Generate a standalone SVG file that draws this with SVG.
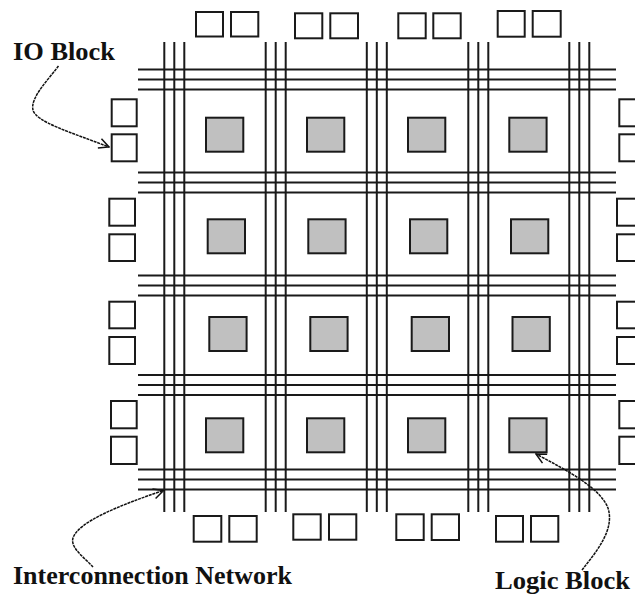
<svg xmlns="http://www.w3.org/2000/svg" width="635" height="595" viewBox="0 0 635 595">
<style>
.bg{fill:#fff}
.wire{stroke:#1a1a1a;stroke-width:2;fill:none}
.io{fill:#fff;stroke:#1a1a1a;stroke-width:2}
.lb{fill:#c0c0c0;stroke:#1a1a1a;stroke-width:2}
.lbl{font-family:"Liberation Serif","Times New Roman",serif;font-weight:bold;font-size:26px;fill:#111}
.arr{fill:none;stroke:#111;stroke-width:1.5;stroke-dasharray:3 0.8}
</style>
<defs>
<marker id="ah" viewBox="0 0 12 12" refX="11" refY="6" markerWidth="12" markerHeight="12" markerUnits="userSpaceOnUse" orient="auto">
<path d="M1,1 L11,6 L1,11" fill="none" stroke="#111" stroke-width="1.5"/>
</marker>
</defs>
<rect class="bg" x="0" y="0" width="635" height="595"/>
<g id="interconnect">
<g class="wire">
<path d="M138,69.5H616M138,79.5H616M138,89.5H616"/>
<path d="M138,172.5H616M138,182.5H616M138,192.5H616"/>
<path d="M138,275.5H616M138,285.5H616M138,295.5H616"/>
<path d="M138,375H616M138,385H616M138,395H616"/>
<path d="M138,469.5H616M138,479.5H616M138,489.5H616"/>
<path d="M164.3,42V512M174.3,42V512M184.3,42V512"/>
<path d="M265.7,42V512M275.7,42V512M285.7,42V512"/>
<path d="M366.8,42V512M376.8,42V512M386.8,42V512"/>
<path d="M468.3,42V512M478.3,42V512M488.3,42V512"/>
<path d="M569.3,42V512M579.3,42V512M589.3,42V512"/>
</g>
</g>
<g id="logic-blocks">
<g id="lb-1-1"><rect class="lb" x="206" y="117.7" width="37.3" height="34"/></g>
<g id="lb-1-2"><rect class="lb" x="307" y="117.7" width="37.3" height="34"/></g>
<g id="lb-1-3"><rect class="lb" x="408" y="117.7" width="37.3" height="34"/></g>
<g id="lb-1-4"><rect class="lb" x="509.3" y="117.7" width="37.3" height="34"/></g>
<g id="lb-2-1"><rect class="lb" x="207.7" y="219.3" width="37.3" height="34"/></g>
<g id="lb-2-2"><rect class="lb" x="308.3" y="219.3" width="37.3" height="34"/></g>
<g id="lb-2-3"><rect class="lb" x="410" y="219.3" width="37.3" height="34"/></g>
<g id="lb-2-4"><rect class="lb" x="511" y="219.3" width="37.3" height="34"/></g>
<g id="lb-3-1"><rect class="lb" x="209.3" y="317" width="37.3" height="34"/></g>
<g id="lb-3-2"><rect class="lb" x="310.3" y="317" width="37.3" height="34"/></g>
<g id="lb-3-3"><rect class="lb" x="411.7" y="317" width="37.3" height="34"/></g>
<g id="lb-3-4"><rect class="lb" x="512.5" y="317" width="37.3" height="34"/></g>
<g id="lb-4-1"><rect class="lb" x="206" y="418.3" width="37.3" height="34"/></g>
<g id="lb-4-2"><rect class="lb" x="307" y="418.3" width="37.3" height="34"/></g>
<g id="lb-4-3"><rect class="lb" x="408" y="418.3" width="37.3" height="34"/></g>
<g id="lb-4-4"><rect class="lb" x="509.3" y="418.3" width="37.3" height="34"/></g>
</g>
<g id="io-blocks">
<g id="io-top-1"><rect class="io" x="196" y="12" width="27" height="24.5"/><rect class="io" x="231" y="12" width="27.3" height="24.5"/></g>
<g id="io-top-2"><rect class="io" x="295" y="13.3" width="27.3" height="25"/><rect class="io" x="330.3" y="13.3" width="27.7" height="25"/></g>
<g id="io-top-3"><rect class="io" x="398.3" y="13.3" width="27.4" height="25"/><rect class="io" x="433.3" y="13.3" width="27.4" height="25"/></g>
<g id="io-top-4"><rect class="io" x="497.7" y="11" width="27" height="25.7"/><rect class="io" x="532.7" y="11" width="28" height="25.7"/></g>
<g id="io-bottom-1"><rect class="io" x="193.7" y="516" width="27.6" height="25.7"/><rect class="io" x="229.3" y="516" width="27.4" height="25.7"/></g>
<g id="io-bottom-2"><rect class="io" x="293.3" y="514.3" width="27.4" height="25.4"/><rect class="io" x="329" y="514.3" width="27.3" height="25.4"/></g>
<g id="io-bottom-3"><rect class="io" x="396.3" y="514.3" width="27.4" height="25.7"/><rect class="io" x="431.7" y="514.3" width="27.3" height="25.7"/></g>
<g id="io-bottom-4"><rect class="io" x="496" y="516" width="27" height="25.7"/><rect class="io" x="531" y="516" width="27.3" height="25.7"/></g>
<g id="io-left-1"><rect class="io" x="111.7" y="99.3" width="25" height="27"/><rect class="io" x="111.7" y="134.3" width="25" height="27"/></g>
<g id="io-left-2"><rect class="io" x="109.3" y="198.7" width="25.7" height="27"/><rect class="io" x="109.3" y="234.3" width="25.7" height="26.7"/></g>
<g id="io-left-3"><rect class="io" x="109.3" y="301.7" width="25.7" height="26.6"/><rect class="io" x="109.3" y="337" width="25.7" height="27"/></g>
<g id="io-left-4"><rect class="io" x="111" y="401" width="25.7" height="27.3"/><rect class="io" x="111" y="436.7" width="25.7" height="27.3"/></g>
<g id="io-right-1"><rect class="io" x="619.3" y="99.3" width="26" height="27"/><rect class="io" x="619.3" y="134.3" width="26" height="27"/></g>
<g id="io-right-2"><rect class="io" x="617" y="198.7" width="26" height="27"/><rect class="io" x="617" y="234.3" width="26" height="26.7"/></g>
<g id="io-right-3"><rect class="io" x="617" y="301.7" width="26" height="26.6"/><rect class="io" x="617" y="337" width="26" height="27"/></g>
<g id="io-right-4"><rect class="io" x="619.3" y="401" width="26" height="27.3"/><rect class="io" x="619.3" y="436.7" width="26" height="27.3"/></g>
</g>
<g id="connectors">
<path class="arr" marker-end="url(#ah)" d="M58.5,66 C48,80 30,98 33,110 C36,122 70,132 109,147"/>
<path class="arr" marker-end="url(#ah)" d="M93,567 C85,558 70,548 73,538 C78,522 120,505 163.5,490.5"/>
<path class="arr" marker-end="url(#ah)" d="M582,570 C596,552 615,530 608,508 C600,488 570,472 536,454"/>
</g>
<g id="labels">
<text class="lbl" id="label-io" x="13" y="60" textLength="102" lengthAdjust="spacingAndGlyphs">IO Block</text>
<text class="lbl" id="label-net" x="13" y="584" textLength="279" lengthAdjust="spacingAndGlyphs">Interconnection Network</text>
<text class="lbl" id="label-logic" x="495" y="589" font-size="25" textLength="135" lengthAdjust="spacingAndGlyphs">Logic Block</text>
</g>
</svg>
